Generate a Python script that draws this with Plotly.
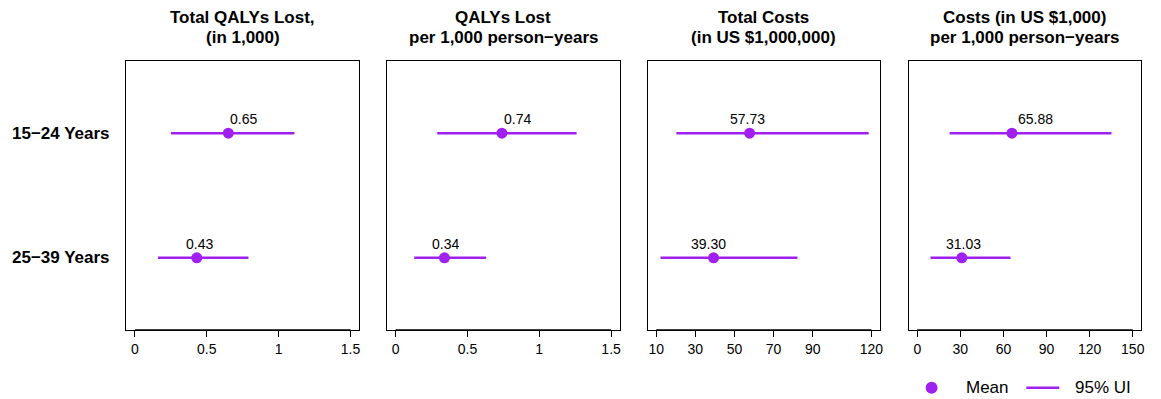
import plotly.graph_objects as go

# Age groups shown as rows
age_groups = ["15\u221224 Years", "25\u221239 Years"]

# Outcome measures (one panel each)
titles = [
    ("Total QALYs Lost,", "(in 1,000)"),
    ("QALYs Lost", "per 1,000 person\u2212years"),
    ("Total Costs", "(in US $1,000,000)"),
    ("Costs (in US $1,000)", "per 1,000 person\u2212years"),
]

# Mean estimates and 95% uncertainty intervals, per panel, per age group
qaly_total_mean = [0.65, 0.43]
qaly_total_lo = [0.25, 0.16]
qaly_total_hi = [1.11, 0.79]

qaly_rate_mean = [0.74, 0.34]
qaly_rate_lo = [0.29, 0.13]
qaly_rate_hi = [1.26, 0.63]

cost_total_mean = [57.73, 39.30]
cost_total_lo = [20.3, 12.2]
cost_total_hi = [118.6, 82.2]

cost_rate_mean = [65.88, 31.03]
cost_rate_lo = [22.5, 9.2]
cost_rate_hi = [135.2, 64.9]

# Axis ticks per panel
ticks_qaly_total = [0, 0.5, 1, 1.5]
ticks_qaly_rate = [0, 0.5, 1, 1.5]
ticks_cost_total = [10, 30, 50, 70, 90, 120]
ticks_cost_rate = [0, 30, 60, 90, 120, 150]

panels = [
    (qaly_total_mean, qaly_total_lo, qaly_total_hi, ticks_qaly_total),
    (qaly_rate_mean, qaly_rate_lo, qaly_rate_hi, ticks_qaly_rate),
    (cost_total_mean, cost_total_lo, cost_total_hi, ticks_cost_total),
    (cost_rate_mean, cost_rate_lo, cost_rate_hi, ticks_cost_rate),
]

# ---- layout constants (pixels) ----
W, H = 1161, 399
PURPLE = "#A020F0"
FONT = "Liberation Sans, Arial, Helvetica, sans-serif"
panel_px = [(126.7, 360.0), (388.0, 621.3), (649.3, 882.3), (911.0, 1144.3)]
top_px, bottom_px = 61.0, 330.0
label_nudge_px = [[15, 3], [16, 1], [-2, -5], [24, 2]]


def px_x(v):
    return v / W


def px_y(v):
    return 1 - v / H


fig = go.Figure()
annotations = []
shapes = []

for i, ((mean, lo, hi, ticks), (x0, x1)) in enumerate(zip(panels, panel_px)):
    n = "" if i == 0 else str(i + 1)
    xa, ya = "x" + n, "y" + n

    fig.add_trace(go.Scatter(
        x=mean, y=age_groups, xaxis=xa, yaxis=ya,
        mode="markers",
        marker=dict(color=PURPLE, size=11),
        error_x=dict(
            type="data", symmetric=False,
            array=[h - m for h, m in zip(hi, mean)],
            arrayminus=[m - l for m, l in zip(mean, lo)],
            color=PURPLE, thickness=2.4, width=0,
        ),
        showlegend=False, hoverinfo="skip",
    ))

    span = ticks[-1] - ticks[0]
    xr = [ticks[0] - 0.04 * span, ticks[-1] + 0.04 * span]
    axis_common = dict(
        showline=True, linecolor="black", linewidth=1, mirror=True,
        showgrid=False, zeroline=False,
    )
    fig.update_layout(**{
        ("xaxis" + n): dict(
            domain=[px_x(x0), px_x(x1)], range=xr, anchor=ya,
            tickvals=ticks, ticktext=[f"{t:g}" for t in ticks],
            ticks="outside", ticklen=6, tickcolor="black", tickwidth=1,
            tickfont=dict(family=FONT, size=14, color="black"),
            **axis_common,
        ),
        ("yaxis" + n): dict(
            domain=[px_y(bottom_px), px_y(top_px)], anchor=xa,
            type="category", categoryorder="array", categoryarray=age_groups,
            range=[1.58, -0.58], showticklabels=False, ticks="",
            **axis_common,
        ),
    })

    # axis line spanning the tick range
    shapes.append(dict(
        type="line", xref=xa, yref="paper",
        x0=ticks[0], x1=ticks[-1], y0=px_y(bottom_px), y1=px_y(bottom_px),
        line=dict(color="black", width=1.3),
    ))

    # value labels above the means
    for j, (m, g) in enumerate(zip(mean, age_groups)):
        annotations.append(dict(
            x=m, y=g, xref=xa, yref=ya, text=f"{m:.2f}", showarrow=False,
            xanchor="center", yanchor="middle",
            xshift=label_nudge_px[i][j], yshift=14,
            font=dict(family=FONT, size=14, color="black"),
        ))

    # two-line panel title
    cx = px_x((x0 + x1) / 2)
    for line, yc in zip(titles[i], (17.5, 37.5)):
        annotations.append(dict(
            x=cx, y=px_y(yc), xref="paper", yref="paper", text=f"<b>{line}</b>",
            showarrow=False, xanchor="center", yanchor="middle",
            font=dict(family=FONT, size=17, color="black"),
        ))

# row labels
for g in age_groups:
    annotations.append(dict(
        x=px_x(112), y=g, xref="paper", yref="y", text=f"<b>{g}</b>",
        showarrow=False, xanchor="right", yanchor="middle",
        font=dict(family=FONT, size=17, color="black"),
    ))

# legend drawn below the last panel
ly = 387.7
shapes.append(dict(
    type="circle", xref="paper", yref="paper",
    x0=px_x(934 - 6), x1=px_x(934 + 6), y0=px_y(ly + 6), y1=px_y(ly - 6),
    fillcolor=PURPLE, line=dict(color=PURPLE, width=0),
))
shapes.append(dict(
    type="line", xref="paper", yref="paper",
    x0=px_x(1029), x1=px_x(1062), y0=px_y(ly), y1=px_y(ly),
    line=dict(color=PURPLE, width=2.4),
))
for txt, xl in (("Mean", 966), ("95% UI", 1076)):
    annotations.append(dict(
        x=px_x(xl), y=px_y(ly), xref="paper", yref="paper", text=txt,
        showarrow=False, xanchor="left", yanchor="middle",
        font=dict(family=FONT, size=17, color="black"),
    ))

fig.update_layout(
    width=W, height=H, margin=dict(l=0, r=0, t=0, b=0),
    paper_bgcolor="white", plot_bgcolor="white",
    annotations=annotations, shapes=shapes,
)

fig.write_html("out.html")
